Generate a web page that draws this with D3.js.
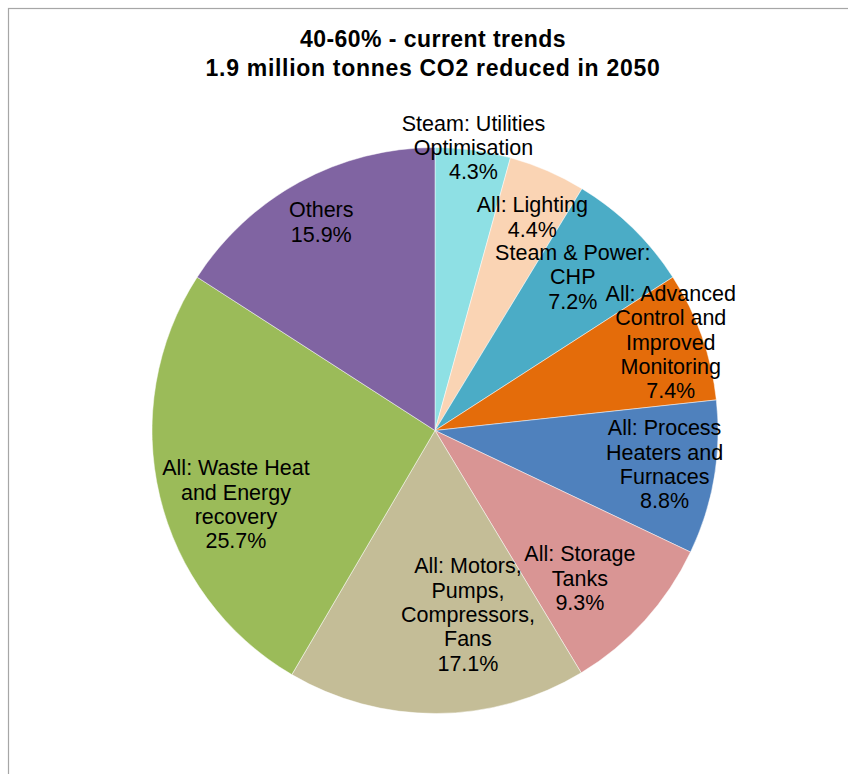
<!DOCTYPE html>
<html>
<head>
<meta charset="utf-8">
<script src="https://cdn.jsdelivr.net/npm/d3@7"></script>
<style>
  html, body { margin: 0; padding: 0; background: #fff; }
  svg { display: block; }
  text { font-family: "Liberation Sans", Arial, sans-serif; fill: #000; }
</style>
</head>
<body>
<svg id="chart" width="848" height="774"></svg>
<script>
// Share of the 2050 CO2 reduction by measure (percent), clockwise from 12 o'clock
const categories = [
  "Steam: Utilities Optimisation",
  "All: Lighting",
  "Steam & Power: CHP",
  "All: Advanced Control and Improved Monitoring",
  "All: Process Heaters and Furnaces",
  "All: Storage Tanks",
  "All: Motors, Pumps, Compressors, Fans",
  "All: Waste Heat and Energy recovery",
  "Others"
];
const values = [4.3, 4.4, 7.2, 7.4, 8.8, 9.3, 17.1, 25.7, 15.9];

// How each category name is broken over lines in its label
const labelLines = [
  ["Steam: Utilities", "Optimisation"],
  ["All: Lighting"],
  ["Steam & Power:", "CHP"],
  ["All: Advanced", "Control and", "Improved", "Monitoring"],
  ["All: Process", "Heaters and", "Furnaces"],
  ["All: Storage", "Tanks"],
  ["All: Motors,", "Pumps,", "Compressors,", "Fans"],
  ["All: Waste Heat", "and Energy", "recovery"],
  ["Others"]
];

const titleLines = ["40-60% - current trends", "1.9 million tonnes CO2 reduced in 2050"];

const colors = ["#8EE0E4", "#FAD4B4", "#4BACC6", "#E46C0A", "#4F81BD",
                "#D99594", "#C4BD97", "#9BBB59", "#8064A2"];

// Label placement: distance from centre (fraction of radius) and angular nudge (degrees)
const labelPlacement = [
  [1.01, 0], [0.83, 1.1], [0.73, -2.4], [0.89, -1.1], [0.82, -1.3],
  [0.73, 3.3], [0.66, -9.8], [0.75, -6.9], [0.84, 0]
];

const svg = d3.select("#chart");
const W = 848, H = 774;

// chart area frame (runs off the right and bottom edges)
svg.append("rect")
  .attr("x", 8.5).attr("y", 8.5)
  .attr("width", W + 20).attr("height", H + 20)
  .attr("fill", "#fff")
  .attr("stroke", "#a6a6a6")
  .attr("stroke-width", 1.2);

// title
svg.append("g").selectAll("text")
  .data(titleLines)
  .join("text")
  .attr("x", 433)
  .attr("y", (d, i) => 46.5 + i * 29)
  .attr("text-anchor", "middle")
  .attr("font-weight", "bold")
  .attr("font-size", "23px")
  .attr("letter-spacing", (d, i) => i === 0 ? "0.45px" : "0.7px")
  .text(d => d);

const cx = 435, cy = 430.5, r = 283;

const pie = d3.pie().sort(null).value(d => d);
const arcs = pie(values);
const arc = d3.arc().innerRadius(0).outerRadius(r);

const g = svg.append("g").attr("transform", `translate(${cx},${cy})`);

g.selectAll("path")
  .data(arcs)
  .join("path")
  .attr("d", arc)
  .attr("fill", (d, i) => colors[i])
  .attr("stroke", "#ffffff")
  .attr("stroke-opacity", 0.6)
  .attr("stroke-width", 0.8);

const fmt = d3.format(".1f");
const lineH = 24.3;
const fontSize = 21.5;

g.append("g").selectAll("text")
  .data(arcs)
  .join("text")
  .attr("text-anchor", "middle")
  .attr("font-size", fontSize + "px")
  .each(function (d, i) {
    const [k, nudge] = labelPlacement[i];
    const a = (d.startAngle + d.endAngle) / 2 + nudge * Math.PI / 180;
    const x = Math.sin(a) * r * k;
    const y = -Math.cos(a) * r * k;
    const lines = labelLines[i].concat([fmt(d.data) + "%"]);
    const top = y - (lines.length - 1) * lineH / 2 + fontSize * 0.36;
    d3.select(this).selectAll("tspan")
      .data(lines)
      .join("tspan")
      .attr("x", x)
      .attr("y", (t, j) => top + j * lineH)
      .text(t => t);
  });
</script>
</body>
</html>
